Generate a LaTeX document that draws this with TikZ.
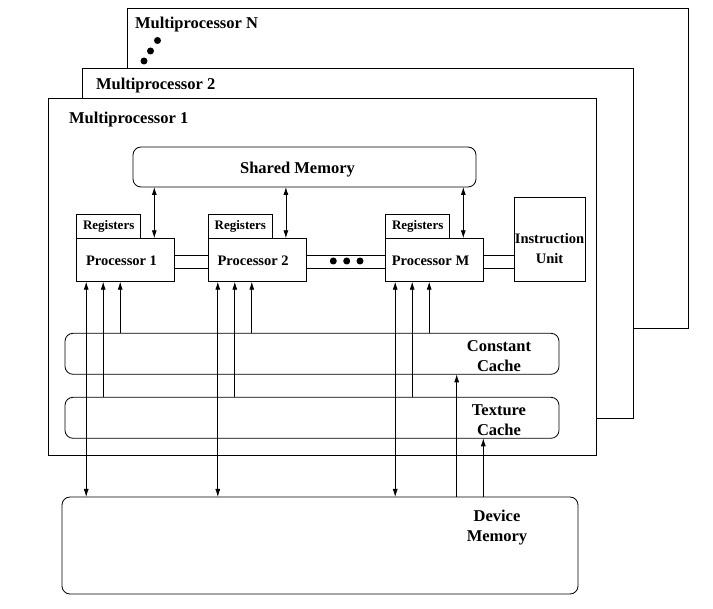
\documentclass[tikz,border=0pt]{standalone}
\usepackage{fontspec}
\setmainfont{Liberation Serif}
\usetikzlibrary{arrows.meta}

\begin{document}
\begin{tikzpicture}[x=1pt,y=-1pt,line width=0.8pt,>={Latex[length=8pt,width=5pt]},
        every node/.style={inner sep=0pt,outer sep=0pt},
        mpbox/.style={draw,fill=white,anchor=north west},
        membox/.style={draw,rounded corners=8pt,anchor=north west},
        proclbl/.style={font=\fontsize{14.5}{20}\selectfont\bfseries,align=center},
        procbox/.style={proclbl,draw,fill=white,anchor=north west},
        regbox/.style={draw,fill=white,anchor=north west,font=\fontsize{13}{15}\selectfont\bfseries},
        biglbl/.style={font=\fontsize{16.5}{20}\selectfont\bfseries,align=center}]
        \useasboundingbox (0,0) rectangle (713,609);

        % multiprocessors, back to front
        \node[mpbox,minimum width=561pt,minimum height=320pt] (mpn) at (127,8) {};
        \node[biglbl,anchor=west] (mpnt) at ([xshift=8pt,yshift=-17pt]mpn.north west) {Multiprocessor N};
        \fill (157.5,40.5) circle (3.5pt) (150.5,51) circle (3.5pt) (144,61) circle (3.5pt);
        \node[mpbox,minimum width=551pt,minimum height=350pt] (mp2) at (82,68) {};
        \node[biglbl,anchor=west] (mp2t) at ([xshift=14pt,yshift=-18pt]mp2.north west) {Multiprocessor 2};
        \node[mpbox,minimum width=548pt,minimum height=357pt] (mp1) at (48,98) {};
        \node[biglbl,anchor=west] (mp1t) at ([xshift=21pt,yshift=-22pt]mp1.north west) {Multiprocessor 1};

        \node[membox,minimum width=343pt,minimum height=40pt] (sm) at (133,147) {};
        \node[biglbl] (smt) at ([xshift=-7pt,yshift=-3pt]sm.center) {Shared Memory};

        % processors
        \foreach \n/\x/\t in {1/76.7/1,2/208.3/2,m/385.7/M}{
            \node[regbox,minimum width=64pt,minimum height=24.3pt] (r\n) at (\x,214) {Registers};
            \node[procbox,minimum width=97.6pt,minimum height=43.4pt] (p\n) at (\x,238.3) {};
            \node[proclbl] (p\n t) at ([xshift=-4pt,yshift=-1pt]p\n.center) {Processor \t};
        }
        \node[procbox,minimum width=71pt,minimum height=84.4pt] (iu) at (514,197.3) {};
        \node[proclbl] (iut) at ([yshift=-9pt]iu.center) {Instruction\\Unit};

        % buses
        \foreach \a/\b in {p1/p2,p2/pm,pm/iu}{
            \coordinate (\a u) at ([yshift=-16.7pt]\a.north east);
            \coordinate (\a d) at ([yshift=-30pt]\a.north east);
            \draw (\a u) -- (\a u -| \b.west);
            \draw (\a d) -- (\a d -| \b.west);
        }
        \foreach \x in {333.3,346.7,360}
            \fill (\x,261) circle (3.5pt);

        % caches and device memory
        \node[membox,minimum width=494pt,minimum height=41pt] (con) at (65,333.3) {};
        \node[biglbl] (cont) at ([xshift=-60pt,yshift=-2pt]con.east) {Constant\\Cache};
        \node[membox,minimum width=494pt,minimum height=41pt] (tex) at (65,397.3) {};
        \node[biglbl] (texl) at ([xshift=-60pt,yshift=-2pt]tex.east) {Texture\\Cache};
        \node[membox,minimum width=516pt,minimum height=97pt] (dev) at (62,497) {};
        \node[biglbl] (devt) at ([xshift=-81pt,yshift=-31pt]dev.north east) {Device\\Memory};

        % connections
        \foreach \n in {p1,p2,pm}{
            \coordinate (\n s) at ([xshift=-20pt]\n.north east);
            \draw[<->] (\n s |- sm.south) -- (\n s);
            \coordinate (\n a) at ([xshift=9.5pt]\n.south west);
            \coordinate (\n b) at ([xshift=26.5pt]\n.south west);
            \coordinate (\n c) at ([xshift=43.5pt]\n.south west);
            \draw[<->] (\n a) -- (\n a |- dev.north);
            \draw[->] (\n b |- tex.north) -- (\n b);
            \draw[->] (\n c |- con.north) -- (\n c);
        }
        \coordinate (dc) at ([xshift=-102.3pt]con.south east);
        \coordinate (dt) at ([xshift=-75.7pt]tex.south east);
        \draw[->] (dc |- dev.north) -- (dc);
        \draw[->] (dt |- dev.north) -- (dt);
    \end{tikzpicture}
\end{document}
